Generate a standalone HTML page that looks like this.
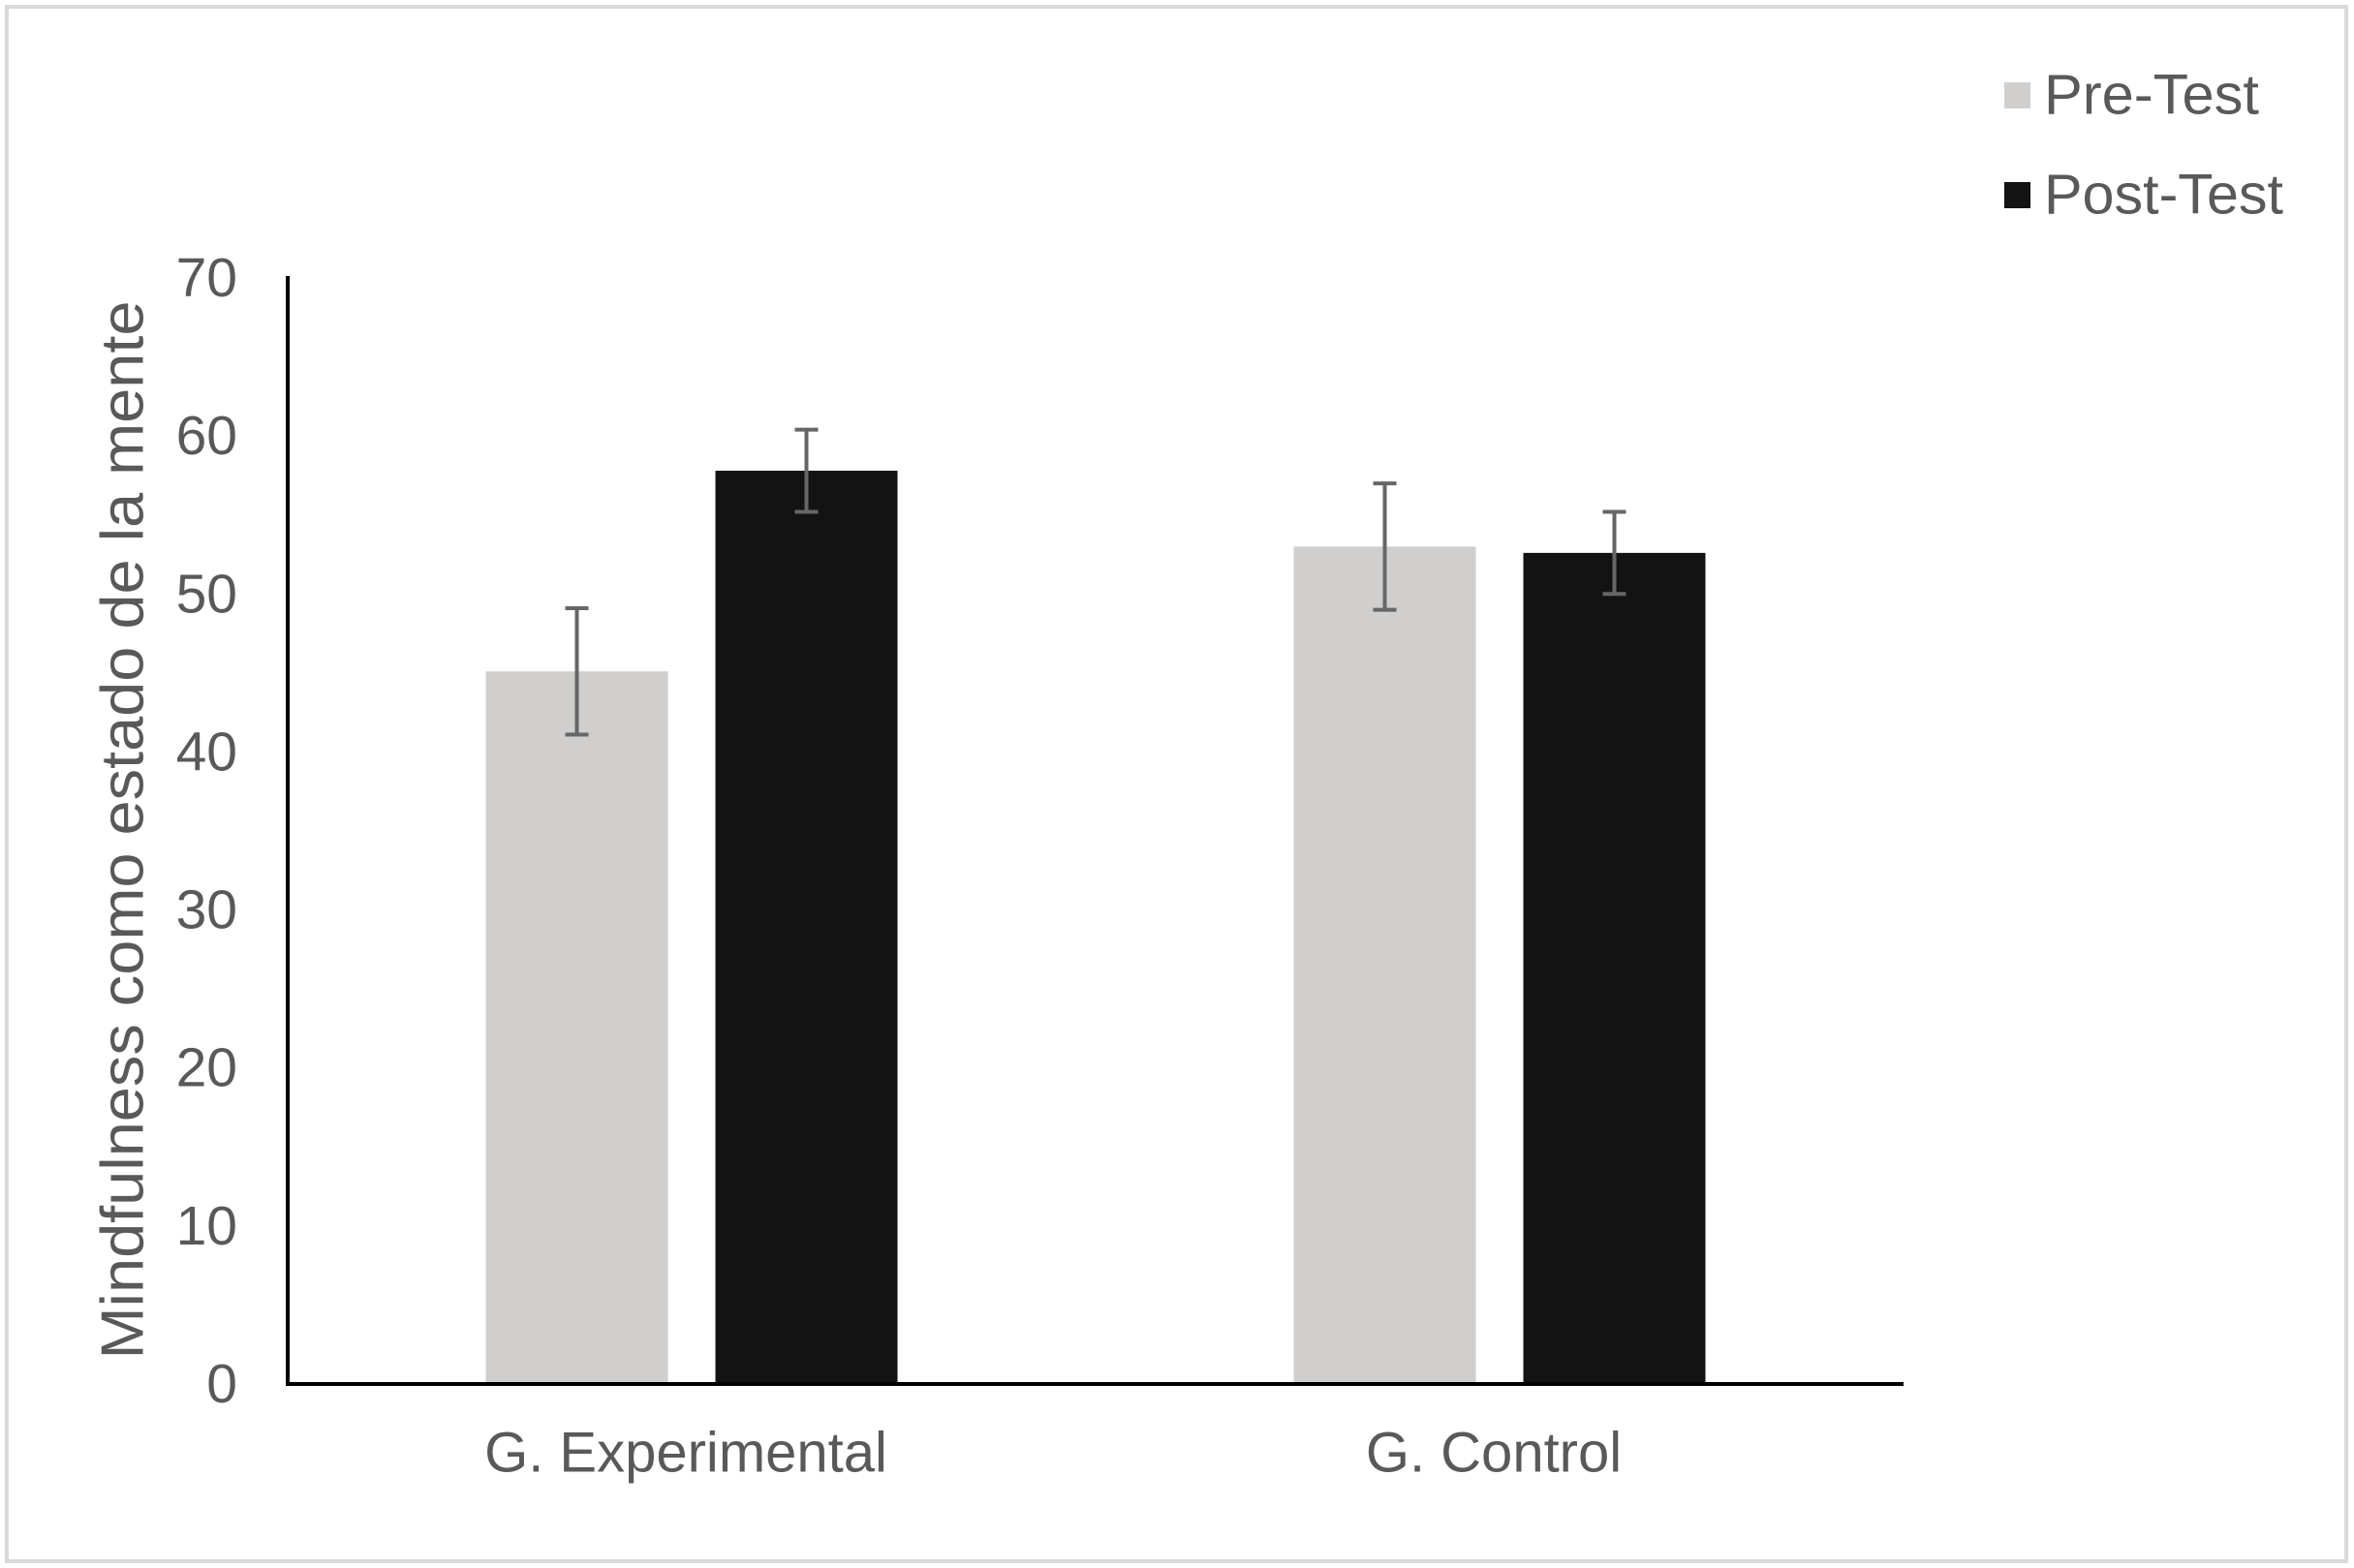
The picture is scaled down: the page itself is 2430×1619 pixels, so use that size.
<!DOCTYPE html>
<html><head><meta charset="utf-8"><style>
html,body{margin:0;padding:0;background:#fff;}
svg{display:block;font-family:"Liberation Sans",Arial,sans-serif;}
</style></head><body>
<svg id="chart" width="2430" height="1619" viewBox="0 0 2430 1619">
<rect x="7" y="7" width="2415" height="1605" fill="#fff" stroke="#d9d9d9" stroke-width="4"/>
<g id="bars"></g>
<g id="axes"></g>
<text x="127" y="857" transform="rotate(-90 127 857)" text-anchor="middle" dominant-baseline="central" font-size="62" textLength="1093" lengthAdjust="spacingAndGlyphs" fill="#595959">Mindfulness como estado de la mente</text>
<g>
<rect x="2069" y="85" width="27" height="27" fill="#d0cfcd"/>
<text x="2110" y="98" font-size="58" textLength="222" lengthAdjust="spacingAndGlyphs" fill="#595959" dominant-baseline="central">Pre-Test</text>
<rect x="2069" y="188" width="27" height="27" fill="#131313"/>
<text x="2110" y="201" font-size="58" textLength="247" lengthAdjust="spacingAndGlyphs" fill="#595959" dominant-baseline="central">Post-Test</text>
</g>
</svg>
<script>
const categories = ["G. Experimental", "G. Control"];
const preValues = [45.1, 53.0];
const postValues = [57.8, 52.6];
const preErrors = [4.0, 4.0];
const postErrors = [2.6, 2.6];
const yTicks = [0, 10, 20, 30, 40, 50, 60, 70];

const NS = "http://www.w3.org/2000/svg";
const x0 = 297, x1 = 1965, yZero = 1429, yTop = 287, yMax = 70;
const yScale = v => yZero - (yZero - yTop) * v / yMax;
const groupW = (x1 - x0) / categories.length;
const barW = 188, gap = 49;
function mk(tag, attrs) { const e = document.createElementNS(NS, tag); for (const k in attrs) e.setAttribute(k, attrs[k]); return e; }
const bars = document.getElementById('bars');
const axes = document.getElementById('axes');

categories.forEach((c, i) => {
  const cx = x0 + groupW * (i + 0.5);
  const series = [[preValues[i], preErrors[i], "#d0cfcd", "pre"], [postValues[i], postErrors[i], "#131313", "post"]];
  series.forEach((s, j) => {
    const bx = j === 0 ? cx - gap / 2 - barW : cx + gap / 2;
    const r = mk('rect', { x: bx, y: yScale(s[0]), width: barW, height: yZero - yScale(s[0]), fill: s[2] });
    
    
    bars.appendChild(r);
    const ex = bx + barW / 2;
    const g = mk('g', { stroke: "#666", 'stroke-width': 4 });
    
    
    g.appendChild(mk('line', { x1: ex, x2: ex, y1: yScale(s[0] + s[1]), y2: yScale(s[0] - s[1]) }));
    g.appendChild(mk('line', { x1: ex - 12, x2: ex + 12, y1: yScale(s[0] + s[1]), y2: yScale(s[0] + s[1]) }));
    g.appendChild(mk('line', { x1: ex - 12, x2: ex + 12, y1: yScale(s[0] - s[1]), y2: yScale(s[0] - s[1]) }));
    bars.appendChild(g);
  });
  const t = mk('text', { x: cx - 6, y: 1500, 'text-anchor': 'middle', 'dominant-baseline': 'central', 'font-size': 58, fill: '#595959' });
  t.textContent = c;
  
  
  axes.appendChild(t);
});

yTicks.forEach(v => {
  const t = mk('text', { x: 245, y: yScale(v), 'text-anchor': 'end', 'dominant-baseline': 'central', 'font-size': 57, fill: '#595959' });
  t.textContent = v;
  
  
  axes.appendChild(t);
});

const ya = mk('line', { x1: x0, x2: x0, y1: yTop - 2, y2: yZero + 2, stroke: '#000', 'stroke-width': 4 });


axes.appendChild(ya);
const xa = mk('line', { x1: x0 - 2, x2: x1, y1: yZero, y2: yZero, stroke: '#000', 'stroke-width': 4 });


axes.appendChild(xa);
</script>
</body></html>
